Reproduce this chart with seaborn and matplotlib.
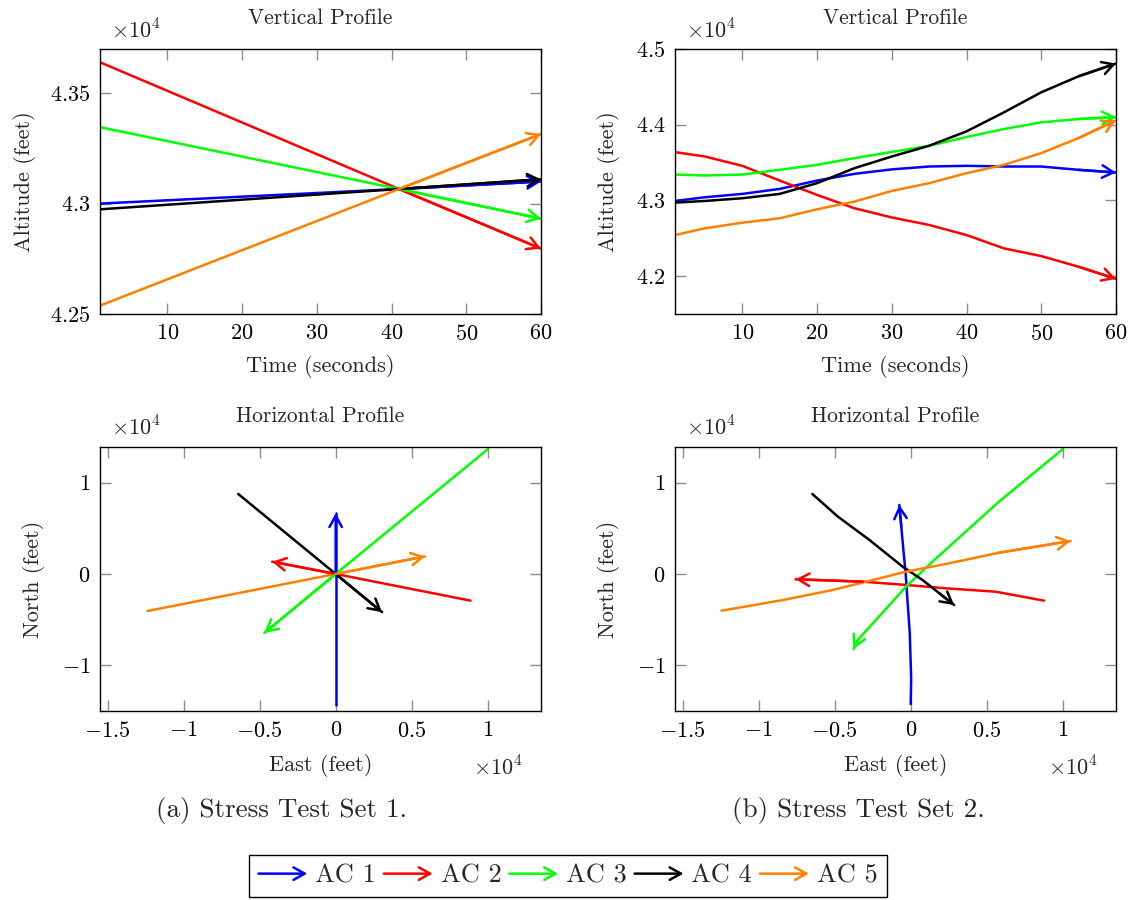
import matplotlib
matplotlib.use("Agg")
import matplotlib.pyplot as plt
import seaborn as sns
from matplotlib.lines import Line2D
from matplotlib.patches import FancyArrowPatch
from matplotlib.legend_handler import HandlerBase
from matplotlib.ticker import FixedLocator, FuncFormatter

# ---------------- data ----------------
ac_labels = ["AC 1", "AC 2", "AC 3", "AC 4", "AC 5"]
ac_colors = ["#0000ff", "#ff0000", "#00ff00", "#000000", "#ff8000"]

# Stress Test Set 1 - vertical profile (time in s, altitude in ft)
time_s1 = [1, 41, 60]
alt_s1_ac1 = [43000, 43066, 43100]
alt_s1_ac2 = [43640, 43066, 42796]
alt_s1_ac3 = [43346, 43066, 42932]
alt_s1_ac4 = [42974, 43066, 43110]
alt_s1_ac5 = [42538, 43066, 43315]

# Stress Test Set 2 - vertical profile
time_s2 = [1, 5, 10, 15, 20, 25, 30, 35, 40, 45, 50, 55, 60]
alt_s2_ac1 = [42993, 43042, 43086, 43152, 43262, 43351, 43410, 43448, 43457, 43448, 43448, 43404, 43369]
alt_s2_ac2 = [43638, 43580, 43457, 43263, 43073, 42897, 42775, 42676, 42543, 42367, 42265, 42124, 41964]
alt_s2_ac3 = [43342, 43329, 43342, 43404, 43470, 43559, 43640, 43722, 43837, 43943, 44031, 44075, 44101]
alt_s2_ac4 = [42971, 42993, 43029, 43086, 43228, 43426, 43580, 43722, 43912, 44163, 44428, 44640, 44808]
alt_s2_ac5 = [42543, 42632, 42706, 42764, 42883, 42985, 43125, 43228, 43360, 43470, 43625, 43824, 44057]

# Stress Test Set 1 - horizontal profile (east, north in ft)
east_s1_ac1 = [0, 0, 0]
north_s1_ac1 = [-14320, 0, 6650]
east_s1_ac2 = [8870, 0, -4180]
north_s1_ac2 = [-2920, 0, 1350]
east_s1_ac3 = [10000, 0, -4690]
north_s1_ac3 = [13650, 0, -6450]
east_s1_ac4 = [-6410, 0, 3050]
north_s1_ac4 = [8760, 0, -4180]
east_s1_ac5 = [-12370, 0, 5870]
north_s1_ac5 = [-4050, 0, 1920]

# Stress Test Set 2 - horizontal profile
east_s2_ac1 = [0, 30, -60, -200, -330, -480, -620, -750]
north_s2_ac1 = [-14240, -11500, -6500, -3200, 0, 2600, 5200, 7560]
east_s2_ac2 = [8760, 7120, 5590, 2310, -310, -3150, -7570]
north_s2_ac2 = [-2920, -2410, -1940, -1570, -1200, -840, -580]
east_s2_ac3 = [10000, 5810, 1550, -310, -3480, -3760]
north_s2_ac3 = [13660, 7920, 1530, -1390, -7230, -8210]
east_s2_ac4 = [-6470, -4790, -2710, -530, 780, 1880, 2860]
north_s2_ac4 = [8760, 6280, 3720, 800, -660, -2110, -3400]
east_s2_ac5 = [-12440, -8400, -5120, -2500, -310, 2530, 5810, 10520]
north_s2_ac5 = [-4020, -2850, -1750, -660, 250, 1170, 2330, 3610]

time_ticks = [10, 20, 30, 40, 50, 60]
alt_ticks_s1 = [42500, 43000, 43500]
alt_ticks_s2 = [42000, 43000, 44000, 45000]
east_ticks = [-15000, -10000, -5000, 0, 5000, 10000]
north_ticks = [-10000, 0, 10000]

# ---------------- style ----------------
sns.set_style("ticks")
plt.rcParams["font.family"] = ["cmr10"]
plt.rcParams["mathtext.fontset"] = "cm"
plt.rcParams["axes.unicode_minus"] = False
plt.rcParams["axes.formatter.use_mathtext"] = True

LW = 1.8
MS = 18
ARROW = "->,head_length=0.45,head_width=0.25"
TICK_FS = 16
LABEL_FS = 16
TITLE_FS = 15.5

W, H = 1132, 900
fig = plt.figure(figsize=(W / 100, H / 100), dpi=100)


def add_ax(x0, x1, y0, y1):
    return fig.add_axes([x0 / W, 1 - y1 / H, (x1 - x0) / W, (y1 - y0) / H])


ax_tl = add_ax(100, 541, 49, 314)
ax_tr = add_ax(675, 1116, 49, 314)
ax_bl = add_ax(100, 541, 447, 711)
ax_br = add_ax(675, 1116, 447, 711)


def draw_path(ax, xs, ys, color):
    sns.lineplot(x=xs, y=ys, color=color, linewidth=LW, sort=False,
                 estimator=None, ax=ax, legend=False)
    ax.annotate("", xy=(xs[-1], ys[-1]), xytext=(xs[-2], ys[-2]),
                arrowprops=dict(arrowstyle=ARROW, color=color, lw=LW,
                                shrinkA=0, shrinkB=0, mutation_scale=MS),
                annotation_clip=False)


def fmt_e4(v, pos):
    return "$%s$" % ("%g" % (v / 1e4))


def fmt_plain(v, pos):
    return "$%g$" % v


def style_ax(ax):
    for s in ax.spines.values():
        s.set_color("black")
        s.set_linewidth(1.0)
        s.set_visible(True)
    ax.tick_params(direction="in", length=8, width=1.0, color="#8c8c8c",
                   top=True, right=True, labelsize=TICK_FS, pad=7,
                   labelcolor="black")
    ax.set_facecolor("white")
    ax.grid(False)


# vertical profiles
for ax, tt, alts, yt, ylim in [
    (ax_tl, time_s1, [alt_s1_ac1, alt_s1_ac2, alt_s1_ac3, alt_s1_ac4, alt_s1_ac5], alt_ticks_s1, (42500, 43700)),
    (ax_tr, time_s2, [alt_s2_ac1, alt_s2_ac2, alt_s2_ac3, alt_s2_ac4, alt_s2_ac5], alt_ticks_s2, (41500, 45000)),
]:
    for a, c in zip(alts, ac_colors):
        draw_path(ax, tt, a, c)
    ax.set_xlim(1, 60)
    ax.set_ylim(*ylim)
    ax.xaxis.set_major_locator(FixedLocator(time_ticks))
    ax.yaxis.set_major_locator(FixedLocator(yt))
    ax.xaxis.set_major_formatter(FuncFormatter(fmt_plain))
    ax.yaxis.set_major_formatter(FuncFormatter(fmt_e4))
    style_ax(ax)
    ax.set_title("Vertical Profile", fontsize=TITLE_FS, pad=18)
    ax.set_xlabel("Time (seconds)", fontsize=LABEL_FS)
    ax.set_ylabel("Altitude (feet)", fontsize=LABEL_FS)
    ax.text(11 / 441, 1 + 11 / 265, r"$\times10^{4}$", transform=ax.transAxes,
            fontsize=TICK_FS, ha="left", va="baseline")
    ax.xaxis.set_label_coords(0.5, -0.219)
    ax.xaxis.label.set_verticalalignment("baseline")

ax_tl.yaxis.set_label_coords(-0.159, 0.5)
ax_tr.yaxis.set_label_coords(-0.138, 0.5)

# horizontal profiles
for ax, es, ns in [
    (ax_bl, [east_s1_ac1, east_s1_ac2, east_s1_ac3, east_s1_ac4, east_s1_ac5],
     [north_s1_ac1, north_s1_ac2, north_s1_ac3, north_s1_ac4, north_s1_ac5]),
    (ax_br, [east_s2_ac1, east_s2_ac2, east_s2_ac3, east_s2_ac4, east_s2_ac5],
     [north_s2_ac1, north_s2_ac2, north_s2_ac3, north_s2_ac4, north_s2_ac5]),
]:
    for e, n, c in zip(es, ns, ac_colors):
        draw_path(ax, e, n, c)
    ax.set_xlim(-15500, 13500)
    ax.set_ylim(-15000, 13900)
    ax.xaxis.set_major_locator(FixedLocator(east_ticks))
    ax.yaxis.set_major_locator(FixedLocator(north_ticks))
    ax.xaxis.set_major_formatter(FuncFormatter(fmt_e4))
    ax.yaxis.set_major_formatter(FuncFormatter(fmt_e4))
    style_ax(ax)
    ax.set_title("Horizontal Profile", fontsize=TITLE_FS, pad=18)
    ax.set_xlabel("East (feet)", fontsize=LABEL_FS)
    ax.set_ylabel("North (feet)", fontsize=LABEL_FS)
    ax.text(11 / 441, 1 + 12 / 264, r"$\times10^{4}$", transform=ax.transAxes,
            fontsize=TICK_FS, ha="left", va="baseline")
    ax.text(373 / 441, -64 / 264, r"$\times10^{4}$", transform=ax.transAxes,
            fontsize=TICK_FS, ha="left", va="baseline")
    ax.xaxis.set_label_coords(0.5, -0.226)
    ax.xaxis.label.set_verticalalignment("baseline")
    ax.yaxis.set_label_coords(-0.138, 0.5)

for ax in (ax_tl, ax_tr, ax_bl, ax_br):
    ax.yaxis.label.set_verticalalignment("baseline")

# captions
fig.text(282 / W, 1 - 817 / H, "(a) Stress Test Set 1.", fontsize=19.5,
         ha="center", va="baseline")
fig.text(858 / W, 1 - 817 / H, "(b) Stress Test Set 2.", fontsize=19.5,
         ha="center", va="baseline")


# legend with arrow handles
class HandlerArrow(HandlerBase):
    def create_artists(self, legend, orig_handle, xdescent, ydescent,
                       width, height, fontsize, trans):
        y = (height - ydescent) / 2
        arr = FancyArrowPatch((-xdescent, y), (-xdescent + width, y),
                              arrowstyle=ARROW, mutation_scale=MS,
                              color=orig_handle.get_color(), lw=LW,
                              shrinkA=0, shrinkB=0, transform=trans)
        return [arr]


handles = [Line2D([], [], color=c) for c in ac_colors]
leg = fig.legend(handles, ac_labels, loc="center",
                 bbox_to_anchor=(568 / W, 1 - 876 / H), ncol=5, fontsize=19,
                 frameon=True, fancybox=False, edgecolor="black", framealpha=1,
                 handlelength=1.85, handletextpad=0.3, columnspacing=0.3,
                 borderpad=0.35, borderaxespad=0, handler_map={Line2D: HandlerArrow()})
leg.get_frame().set_linewidth(1.0)

fig.savefig("out.png", dpi=100, facecolor="white")
